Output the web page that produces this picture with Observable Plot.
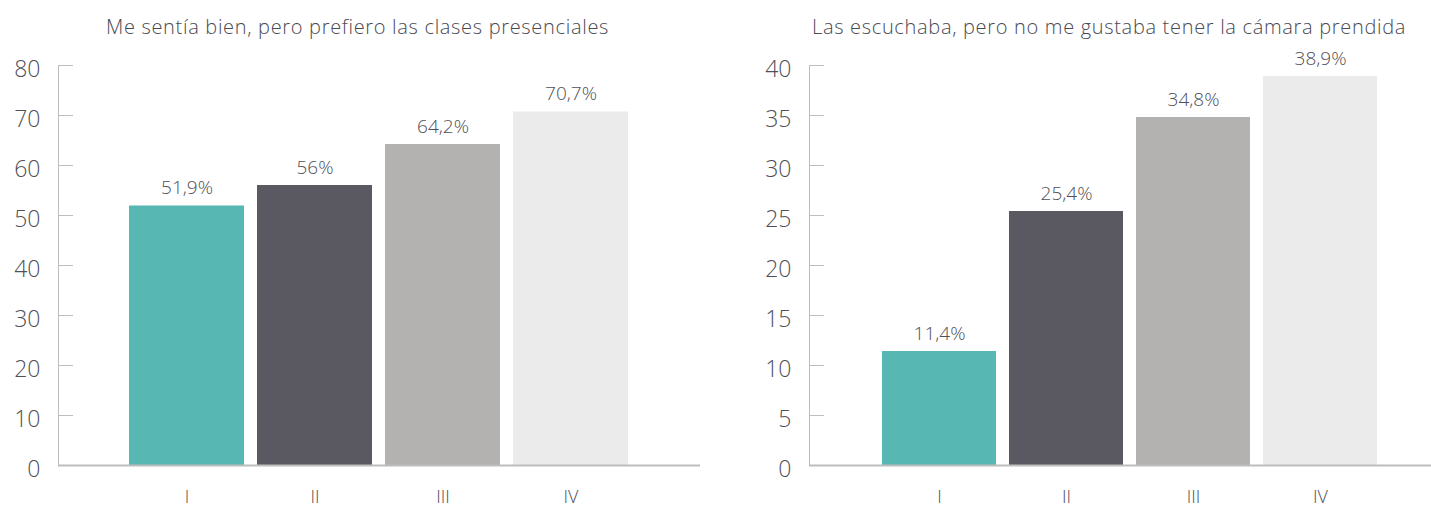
<!DOCTYPE html>
<html><head><meta charset="utf-8">
<script src="https://cdn.jsdelivr.net/npm/d3@7"></script>
<script src="https://cdn.jsdelivr.net/npm/@observablehq/plot@0.6"></script>
<style>
body{margin:0;background:#fff;font-family:"Open Sans",sans-serif;}
#wrap{display:flex;width:1431px;height:509px;}
.col{position:relative;}
.title{height:45px;line-height:54px;font-size:20px;letter-spacing:0.68px;font-weight:300;color:#4a4a52;text-align:center;white-space:nowrap;}
svg{display:block;}
</style></head><body>
<div id="wrap"><div class="col" id="c1" style="width:715px"></div><div class="col" id="c2" style="width:716px"></div></div>
<script>
const categories = ["I","II","III","IV"];
const colors = ["#57b7b2","#5a5962","#b3b2b0","#ebebeb"];
const title1 = "Me sentía bien, pero prefiero las clases presenciales";
const values1 = [51.9, 56, 64.2, 70.7];
const ticks1 = [0,10,20,30,40,50,60,70,80];
const title2 = "Las escuchaba, pero no me gustaba tener la cámara prendida";
const values2 = [11.4, 25.4, 34.8, 38.9];
const ticks2 = [0,5,10,15,20,25,30,35,40];

const fmt = v => String(v).replace(".", ",") + "%";
const textColor = "#4f4f57";

function chart(el, title, values, ticks, yMax, opts){
  const data = categories.map((c,i)=>({cat:c, v:values[i], color:colors[i]}));
  const t = document.createElement("div");
  t.className = "title";
  t.style.paddingLeft = (opts.titlePad||0) + "px";
  t.textContent = title;
  el.appendChild(t);
  const p = Plot.plot({
    width: opts.width, height: 464,
    marginTop: 20, marginBottom: 44, marginLeft: opts.ml, marginRight: opts.mr,
    style:{fontFamily:"Open Sans, sans-serif", fontWeight:300, color:textColor, background:"#fff"},
    x:{domain:categories, paddingInner:0.1, paddingOuter:opts.po, align:opts.align, label:null},
    y:{domain:[0,yMax], label:null},
    marks:[
      Plot.barY(data,{x:"cat", y:"v", fill:"color"}),
      Plot.ruleY([0],{stroke:"#bdbdbd", strokeWidth:2}),
      Plot.frame({anchor:"left", stroke:"#bdbdbd"}),
      Plot.axisY({ticks:ticks, tickSize:-15, stroke:"#bdbdbd", text:null}),
      Plot.axisY({ticks:ticks, tickSize:0, tickPadding:18, dy:4, fontSize:23, fill:textColor, tickFormat:d=>String(d), label:null}),
      Plot.axisX({tickSize:0, tickPadding:25, fontSize:18, fill:textColor, label:null}),
      Plot.text(data,{x:"cat", y:"v", text:d=>fmt(d.v), dy:-18, fontSize:19, fill:textColor})
    ]
  });
  el.appendChild(p);
}
chart(document.getElementById("c1"), title1, values1, ticks1, 80, {width:715, ml:58, mr:15, po:0.545, align:0.5, titlePad:0});
chart(document.getElementById("c2"), title2, values2, ticks2, 40, {width:716, ml:94, mr:0, po:0.48, align:0.58, titlePad:72});
</script></body></html>
